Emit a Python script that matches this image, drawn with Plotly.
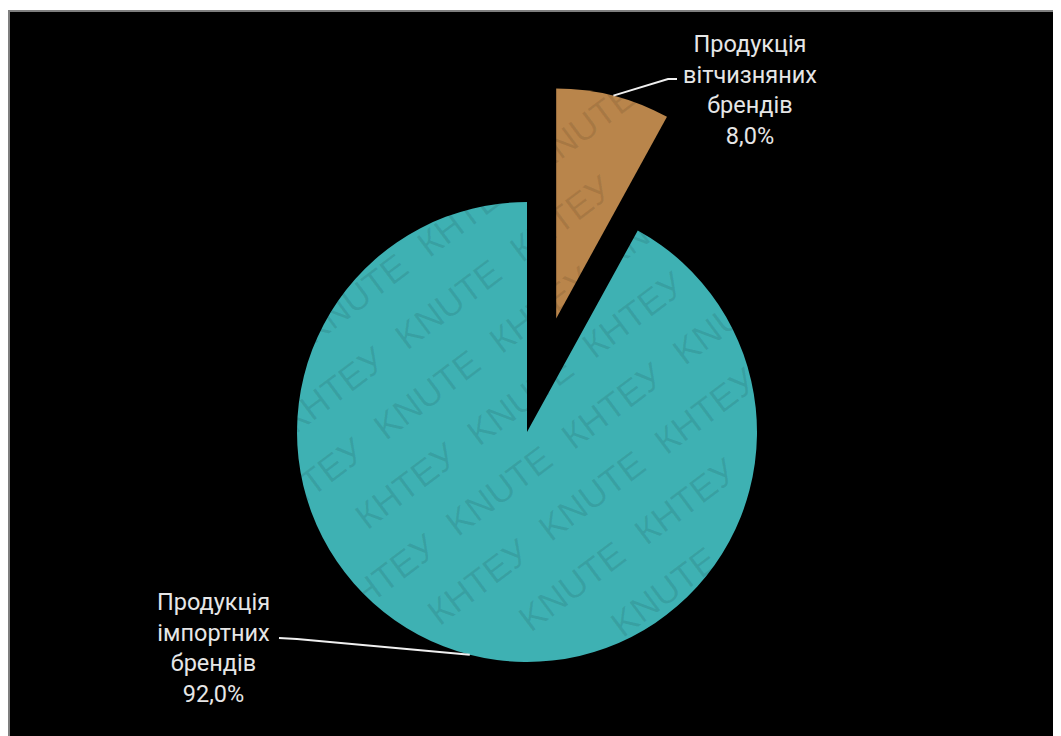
import math
import plotly.graph_objects as go

# ---- data ----
categories = ["Продукція вітчизняних брендів", "Продукція імпортних брендів"]
label_lines = [["Продукція", "вітчизняних", "брендів"], ["Продукція", "імпортних", "брендів"]]
shares = [8.0, 92.0]
colors = ["#B9854B", "#3EB1B3"]
pull_fraction = [0.51, 0.0]
watermark_words = ["KNUTE", "КНТЕУ"]

# ---- layout constants (screen pixels; page body has an 8px margin) ----
PAGE_OFF = 8
W, H = 1061 - PAGE_OFF, 736 - PAGE_OFF
CX, CY = 527, 432          # pie centre (screen px)
R = 230                    # pie radius
FRAME_X, FRAME_Y = 9, 11   # black panel origin (screen px)
TRANSPARENT = "rgba(0,0,0,0)"


def fx(x):
    return (x - PAGE_OFF) / W


def fy(y):
    return 1 - (y - PAGE_OFF) / H


def fmt_pct(v):
    return f"{v:.1f}".replace(".", ",") + "%"


total = sum(shares)
cum = 0
bisectors = []
for v in shares:
    bisectors.append(360 * (cum + v / 2) / total)
    cum += v


def slice_centre(i):
    a = math.radians(bisectors[i])
    off = pull_fraction[i] * R
    return CX + off * math.sin(a), CY - off * math.cos(a)


fig = go.Figure()

for i in range(len(shares)):
    cx, cy = slice_centre(i)
    mc = [colors[j] if j == i else TRANSPARENT for j in range(len(shares))]
    fig.add_trace(go.Pie(
        labels=categories,
        values=shares,
        marker=dict(colors=mc, line=dict(width=0)),
        sort=False,
        direction="clockwise",
        rotation=0,
        textinfo="none",
        hoverinfo="label+percent",
        showlegend=False,
        domain=dict(x=[fx(cx - R), fx(cx + R)], y=[fy(cy + R), fy(cy - R)]),
    ))

shapes = [dict(type="rect", xref="paper", yref="paper",
               x0=fx(FRAME_X), x1=1.02, y0=-0.02, y1=fy(FRAME_Y),
               fillcolor="black", line=dict(color="#7f7f7f", width=2), layer="below")]

annotations = []
label_pos = [(750, 90), (213, 648)]
FONT_SIZE = 23.5
for i in range(len(shares)):
    lx, ly = label_pos[i]
    text = "<br>".join(label_lines[i] + [fmt_pct(shares[i])])
    annotations.append(dict(x=fx(lx), y=fy(ly), xref="paper", yref="paper",
                            xanchor="center", yanchor="middle",
                            text=text, showarrow=False, align="center",
                            font=dict(family="Roboto", size=FONT_SIZE, color="#E6E6E6")))

# leader lines from slice edge (bisector) to label
paths = [[(668, 79), (677, 79)], [(297, 639), (279, 638)]]
for i, tail in enumerate(paths):
    cx, cy = slice_centre(i)
    a = math.radians(bisectors[i])
    pts = [(cx + R * math.sin(a), cy - R * math.cos(a))] + tail
    d = "M " + " L ".join(f"{fx(x):.5f},{fy(y):.5f}" for x, y in pts)
    shapes.append(dict(type="path", xref="paper", yref="paper", path=d,
                       line=dict(color="#F0F0F0", width=2)))

# watermark (darkening overlay, visible only over the coloured slices)
label_boxes = [(670, 25, 830, 155), (145, 585, 285, 712)]
theta = 37
ux, uy = math.cos(math.radians(theta)), -math.sin(math.radians(theta))
nx, ny = math.sin(math.radians(theta)), math.cos(math.radians(theta))
pitch, spacing = 142, 60
hx = 61 * ux + 22 * nx
hy = 61 * abs(uy) + 22 * ny
for k in range(-12, 13):
    for j in range(-10, 11):
        sx = 520 + k * spacing * nx + (j + 0.5 * (k % 2)) * pitch * ux
        sy = 400 + k * spacing * ny + (j + 0.5 * (k % 2)) * pitch * uy
        if math.hypot(sx - CX, sy - CY) > R + 10 and math.hypot(sx - 600, sy - 210) > 120:
            continue
        if sx - hx < 20 or sx + hx > 1050 or sy - hy < 20 or sy + hy > 725:
            continue
        bad = False
        for (x0, y0, x1, y1) in label_boxes:
            if sx + hx > x0 and sx - hx < x1 and sy + hy > y0 and sy - hy < y1:
                bad = True
        if bad:
            continue
        word = watermark_words[(j + k) % 2]
        annotations.append(dict(x=fx(sx), y=fy(sy), xref="paper", yref="paper",
                                xanchor="center", yanchor="middle",
                                text=word, showarrow=False, textangle=-theta,
                                font=dict(family="Liberation Sans", size=36,
                                          color="rgba(0,0,0,0.09)")))

fig.update_layout(
    width=W, height=H,
    margin=dict(l=0, r=0, t=0, b=0),
    paper_bgcolor="white",
    shapes=shapes,
    annotations=annotations,
)

fig.write_html("out.html")
